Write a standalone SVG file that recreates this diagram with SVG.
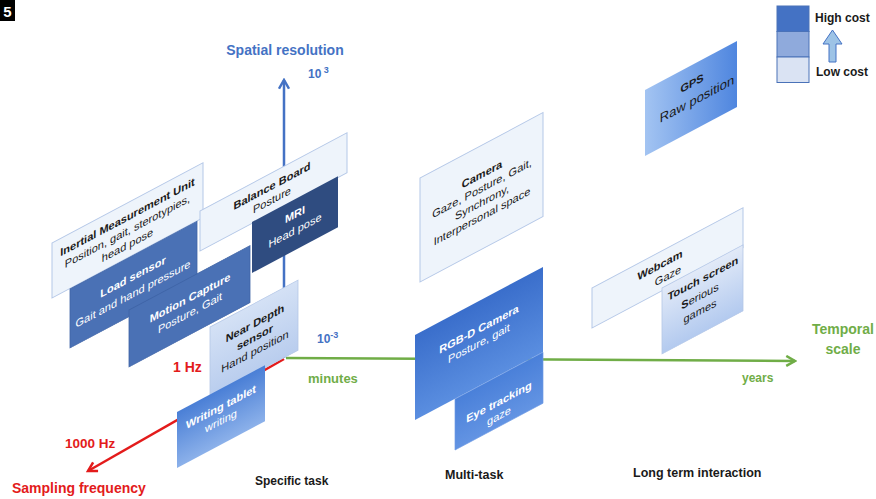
<svg xmlns="http://www.w3.org/2000/svg" width="876" height="499" viewBox="0 0 876 499">
<style>
text{font-family:"Liberation Sans",Arial,sans-serif}
.t{font-size:11px;text-anchor:middle}
.b{font-weight:bold}
.dk{fill:#1a1a1a}
.wh{fill:#ffffff}
.light{fill:#eef4fb;stroke:#b4c7e7;stroke-width:1}
.mid{fill:#4a71b5;stroke:#3f64a6;stroke-width:0.8}
.ax{fill:none;stroke-width:2.5}
.lbl{font-weight:bold}
</style>
<defs>
<linearGradient id="gNear" x1="0" y1="0" x2="0" y2="1"><stop offset="0" stop-color="#d4e1f5"/><stop offset="1" stop-color="#b9cdee"/></linearGradient>
<linearGradient id="gWrit" x1="0" y1="0" x2="0" y2="1"><stop offset="0" stop-color="#4a7fd6"/><stop offset="1" stop-color="#8cb1ea"/></linearGradient>
<linearGradient id="gRgb" x1="0" y1="0" x2="0" y2="1"><stop offset="0" stop-color="#3a6ecb"/><stop offset="1" stop-color="#5a8ee0"/></linearGradient>
<linearGradient id="gEye" x1="0" y1="0" x2="0" y2="1"><stop offset="0" stop-color="#4a80d9"/><stop offset="1" stop-color="#6394e3"/></linearGradient>
<linearGradient id="gGps" x1="0" y1="0" x2="1" y2="0"><stop offset="0" stop-color="#a3c4f2"/><stop offset="1" stop-color="#4f86df"/></linearGradient>
<linearGradient id="gTouch" x1="0" y1="0" x2="0" y2="1"><stop offset="0" stop-color="#e2eaf8"/><stop offset="1" stop-color="#b3caef"/></linearGradient>
<clipPath id="cGps"><rect width="92" height="66"/></clipPath>
<marker id="aBlue" viewBox="0 0 10 10" refX="8" refY="5" markerWidth="5" markerHeight="5" orient="auto" markerUnits="strokeWidth"><path d="M1 1 L8 5 L1 9" fill="none" stroke="#4472c4" stroke-width="2"/></marker>
<marker id="aGreen" viewBox="0 0 10 10" refX="8" refY="5" markerWidth="5" markerHeight="5" orient="auto" markerUnits="strokeWidth"><path d="M1 1 L8 5 L1 9" fill="none" stroke="#70ad47" stroke-width="2"/></marker>
<marker id="aRed" viewBox="0 0 10 10" refX="8" refY="5" markerWidth="5" markerHeight="5" orient="auto" markerUnits="strokeWidth"><path d="M1 1 L8 5 L1 9" fill="none" stroke="#e31b1b" stroke-width="2"/></marker>
</defs>
<rect width="876" height="499" fill="#ffffff"/>
<g id="fig-number">
<rect x="0" y="0" width="15" height="21" fill="#000000"/>
<text x="7.5" y="17" font-size="15" font-weight="bold" fill="#ffffff" text-anchor="middle">5</text>
</g>
<g id="connectors">
<line class="ax" x1="284" y1="358" x2="284" y2="80" stroke="#4472c4" marker-end="url(#aBlue)"/>
<line class="ax" x1="286" y1="358" x2="795" y2="361" stroke="#70ad47" marker-end="url(#aGreen)"/>
<line class="ax" x1="284" y1="359" x2="88" y2="471" stroke="#e31b1b" stroke-width="2" marker-end="url(#aRed)"/>
</g>
<g id="imu" transform="translate(52 243) skewY(-28)">
<rect width="151" height="55" class="light"/>
<text x="75.5" y="18" class="t b dk">Inertial Measurement Unit</text>
<text x="75.5" y="32" class="t dk">Position, gait, sterotypies,</text>
<text x="75.5" y="46" class="t dk">head pose</text>
</g>
<g id="balance-board" transform="translate(200 211) skewY(-28)">
<rect width="147" height="40" class="light"/>
<text x="72" y="17" class="t b dk">Balance Board</text>
<text x="72" y="31" class="t dk">Posture</text>
</g>
<g id="mri" transform="translate(252 222) skewY(-28)">
<rect width="86" height="51" fill="#2f4c80"/>
<text x="43" y="19" class="t b wh">MRI</text>
<text x="43" y="35" class="t wh">Head pose</text>
</g>
<g id="load-sensor" transform="translate(70 289) skewY(-28)">
<rect width="127" height="59" class="mid"/>
<text x="63" y="25" class="t b wh">Load sensor</text>
<text x="63" y="42" class="t wh">Gait and hand pressure</text>
</g>
<g id="motion-capture" transform="translate(129 310) skewY(-28)">
<rect width="121" height="57" class="mid"/>
<text x="61" y="24" class="t b wh">Motion Capture</text>
<text x="61" y="39" class="t wh">Posture, Gait</text>
</g>
<g id="near-depth" transform="translate(210 327) skewY(-28)">
<rect width="88" height="70" fill="url(#gNear)" stroke="#b4c7e7" stroke-width="0.8"/>
<text x="45" y="24" class="t b dk">Near Depth</text>
<text x="45" y="38" class="t b dk">sensor</text>
<text x="45" y="52" class="t dk">Hand position</text>
</g>
<g id="writing-tablet" transform="translate(177 412) skewY(-28)">
<rect width="88" height="56" fill="url(#gWrit)"/>
<text x="44" y="22" class="t b wh">Writing tablet</text>
<text x="44" y="36" class="t wh">writing</text>
</g>
<g id="camera" transform="translate(420 178) skewY(-28)">
<rect width="123" height="104" class="light"/>
<text x="62" y="33" class="t b dk">Camera</text>
<text x="62" y="47" class="t dk">Gaze, Posture, Gait,</text>
<text x="62" y="61" class="t dk">Synchrony,</text>
<text x="62" y="75" class="t dk">Interpersonal space</text>
</g>
<g id="rgbd-camera" transform="translate(415 335) skewY(-28)">
<rect width="128" height="85" fill="url(#gRgb)"/>
<text x="64" y="32" class="t b wh">RGB-D Camera</text>
<text x="64" y="46" class="t wh">Posture, gait</text>
</g>
<g id="eye-tracking" transform="translate(455 399) skewY(-28)">
<rect width="88" height="51" fill="url(#gEye)" stroke="#6f9be4" stroke-width="0.6"/>
<text x="44" y="30" class="t b wh">Eye tracking</text>
<text x="44" y="44" class="t wh">gaze</text>
</g>
<g id="gps" transform="translate(645 90) skewY(-28)">
<rect width="92" height="66" fill="url(#gGps)"/>
<g clip-path="url(#cGps)">
<text x="47" y="22" class="t b dk" font-size="12">GPS</text>
<text x="52" y="41" class="t dk" style="font-size:13px">Raw position</text>
</g>
</g>
<g id="webcam" transform="translate(592 288) skewY(-28)">
<rect width="151" height="40" class="light"/>
<text x="68" y="17" class="t b dk">Webcam</text>
<text x="76" y="32" class="t dk">Gaze</text>
</g>
<g id="touch-screen" transform="translate(662 288) skewY(-28)">
<rect width="81" height="66" fill="url(#gTouch)" stroke="#b4c7e7" stroke-width="0.8"/>
<text x="41" y="16" class="t b dk">Touch screen</text>
<text x="38" y="32" class="t dk"><tspan font-weight="bold">S</tspan>erious</text>
<text x="38" y="47" class="t dk">games</text>
</g>
<g id="legend">
<rect x="777" y="6" width="32" height="25.5" fill="#4472c4" stroke="#4a72b8" stroke-width="1"/>
<rect x="777" y="31.5" width="32" height="25.5" fill="#8faadc" stroke="#4a72b8" stroke-width="1"/>
<rect x="777" y="57" width="32" height="25.5" fill="#dae3f3" stroke="#4a72b8" stroke-width="1"/>
<path d="M832.5 30 L842 44 L836 44 L836 62 L829 62 L829 44 L823 44 Z" fill="#9dc3e6" stroke="#4472c4" stroke-width="1"/>
<text x="815" y="22" font-size="12" font-weight="bold" fill="#1a1a1a">High cost</text>
<text x="816" y="76" font-size="12" font-weight="bold" fill="#1a1a1a">Low cost</text>
</g>
<g id="axis-labels">
<text x="285" y="55" font-size="14" class="lbl" fill="#4472c4" text-anchor="middle">Spatial resolution</text>
<text x="308" y="78" font-size="12" class="lbl" fill="#4472c4">10<tspan font-size="9" dy="-5"> 3</tspan></text>
<text x="317" y="343" font-size="12" class="lbl" fill="#4472c4">10<tspan font-size="9" dy="-5">-3</tspan></text>
<text x="308" y="383" font-size="13" class="lbl" fill="#70ad47">minutes</text>
<text x="742" y="382" font-size="12" class="lbl" fill="#70ad47">years</text>
<text x="843" y="334" font-size="14" class="lbl" fill="#70ad47" text-anchor="middle">Temporal</text>
<text x="843" y="354" font-size="14" class="lbl" fill="#70ad47" text-anchor="middle">scale</text>
<text x="173" y="372" font-size="14" class="lbl" fill="#e31b1b">1 Hz</text>
<text x="65" y="448" font-size="13.5" class="lbl" fill="#e31b1b">1000 Hz</text>
<text x="12" y="493" font-size="14" class="lbl" fill="#e31b1b">Sampling frequency</text>
<text x="255" y="485" font-size="12" class="lbl" fill="#1a1a1a">Specific task</text>
<text x="445" y="479" font-size="12.5" class="lbl" fill="#1a1a1a">Multi-task</text>
<text x="633" y="477" font-size="12.5" class="lbl" fill="#1a1a1a">Long term interaction</text>
</g>
</svg>
